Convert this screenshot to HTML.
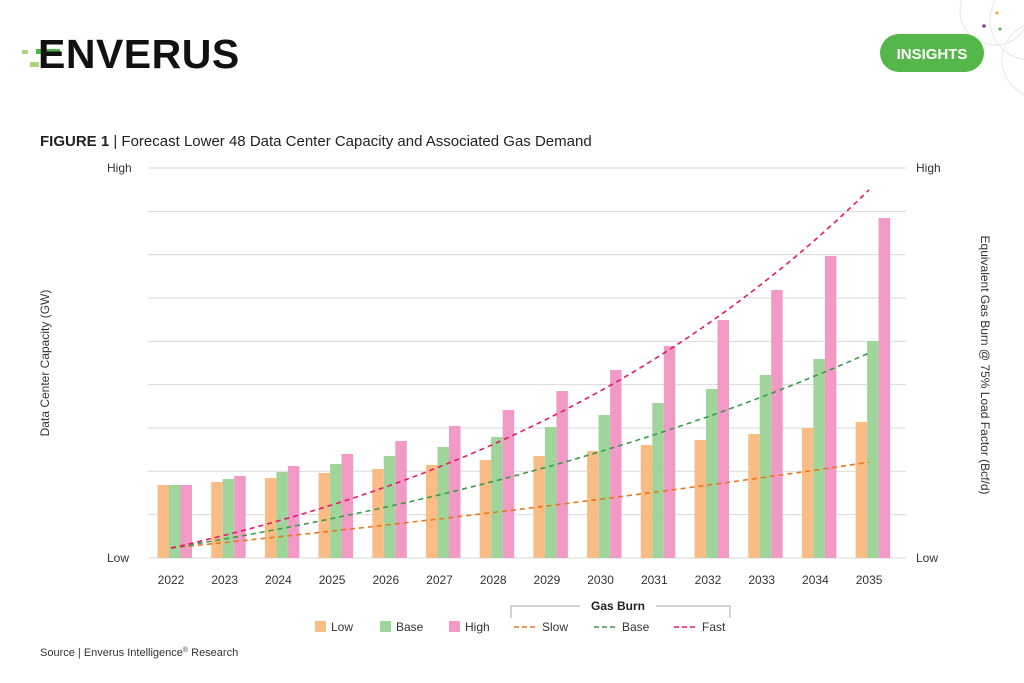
<!DOCTYPE html>
<html><head><meta charset="utf-8"><style>
body{margin:0;width:1024px;height:683px;background:#fff;font-family:"Liberation Sans",Arial,sans-serif;overflow:hidden;position:relative}
</style></head><body>
<svg width="1024" height="683" xmlns="http://www.w3.org/2000/svg" style="position:absolute;left:0;top:0" font-family="Liberation Sans, Arial, sans-serif">
<g fill="none" stroke="#e6e6e6" stroke-width="1">
<circle cx="995" cy="10" r="35"/><circle cx="1030" cy="20" r="40"/><circle cx="1040" cy="60" r="38"/>
</g>
<circle cx="997" cy="13" r="1.5" fill="#f0a050"/><circle cx="984" cy="26" r="1.8" fill="#8a3a9a"/><circle cx="1000" cy="29" r="1.5" fill="#4caf50"/>
<rect x="22" y="50" width="6" height="4" fill="#a8d67a"/>
<rect x="36" y="49" width="24" height="5" fill="#4cb848"/>
<rect x="30" y="62" width="9" height="5" fill="#a8d67a"/>
<text x="38" y="68" font-size="41" font-weight="bold" fill="#111" letter-spacing="0.5">ENVERUS</text>
<rect x="880" y="34" width="104" height="38" rx="19" fill="#55b74a"/>
<text x="932" y="59" font-size="15" font-weight="bold" fill="#fff" text-anchor="middle">INSIGHTS</text>
<text x="40" y="146" font-size="15" fill="#222"><tspan font-weight="bold">FIGURE 1</tspan> | Forecast Lower 48 Data Center Capacity and Associated Gas Demand</text>
<g id="grid" stroke="#d9d9d9" stroke-width="1"></g>
<g id="bars"></g>
<g id="lines" fill="none" stroke-width="1.6" stroke-dasharray="5,4"></g>
<g font-size="12" fill="#333">
<text x="107" y="172">High</text><text x="107" y="562">Low</text>
<text x="916" y="172">High</text><text x="916" y="562">Low</text>
<text transform="translate(49,363) rotate(-90)" text-anchor="middle">Data Center Capacity (GW)</text>
<text transform="translate(981,365) rotate(90)" text-anchor="middle">Equivalent Gas Burn @ 75% Load Factor (Bcf/d)</text>
</g>
<g id="years" font-size="12" fill="#333" text-anchor="middle"></g>
<path d="M511 618 V606 H580 M656 606 H730 V618" stroke="#aaa" fill="none"/>
<text x="618" y="610" font-size="12" font-weight="bold" fill="#222" text-anchor="middle">Gas Burn</text>
<g font-size="12" fill="#333">
<rect x="315" y="621" width="11" height="11" fill="#F9BC84"/><text x="331" y="631">Low</text>
<rect x="380" y="621" width="11" height="11" fill="#9FD49A"/><text x="396" y="631">Base</text>
<rect x="449" y="621" width="11" height="11" fill="#F29AC6"/><text x="465" y="631">High</text>
<line x1="514" y1="627" x2="537" y2="627" stroke="#E87722" stroke-width="1.6" stroke-dasharray="5,3"/><text x="542" y="631">Slow</text>
<line x1="594" y1="627" x2="617" y2="627" stroke="#3A9A4A" stroke-width="1.6" stroke-dasharray="5,3"/><text x="622" y="631">Base</text>
<line x1="674" y1="627" x2="697" y2="627" stroke="#E6196E" stroke-width="1.6" stroke-dasharray="5,3"/><text x="702" y="631">Fast</text>
</g>
<text x="40" y="656" font-size="11" fill="#333">Source | Enverus Intelligence<tspan font-size="7" dy="-4">®</tspan><tspan dy="4"> Research</tspan></text>
</svg>
<script>
var ns="http://www.w3.org/2000/svg";
function el(t,a,p){var e=document.createElementNS(ns,t);for(var k in a)e.setAttribute(k,a[k]);document.getElementById(p).appendChild(e);return e;}
for(var i=0;i<10;i++){var y=168+i*43.33;el("line",{x1:148,x2:906,y1:y,y2:y},"grid");}
var L=[485,482,478,473,469,465,460,456,451,445,440,434,428,422],
B=[485,479,472,464,456,447,437,427,415,403,389,375,359,341],
H=[485,476,466,454,441,426,410,391,370,346,320,290,256,218];
for(var i=0;i<14;i++){var c=171+i*53.7;
el("rect",{x:c-13.5,y:L[i],width:11.5,height:558-L[i],fill:"#F9BC84"},"bars");
el("rect",{x:c-2,y:B[i],width:11.5,height:558-B[i],fill:"#9FD49A"},"bars");
el("rect",{x:c+9.5,y:H[i],width:11.5,height:558-H[i],fill:"#F29AC6"},"bars");
var t=el("text",{x:c,y:584},"years");t.textContent=2022+i;}
function ln(r,A,col){var d="";for(var i=0;i<=130;i++){var t=i/10;var x=171+t*53.7;var y=548-A*(Math.pow(r,t)-1);d+=(i?"L":"M")+x.toFixed(1)+" "+y.toFixed(1);}el("path",{d:d,stroke:col},"lines");}
ln(1.03,183,"#E87722");ln(1.08,113.4,"#3A9A4A");ln(1.12,106.5,"#E6196E");
</script>
</body></html>
